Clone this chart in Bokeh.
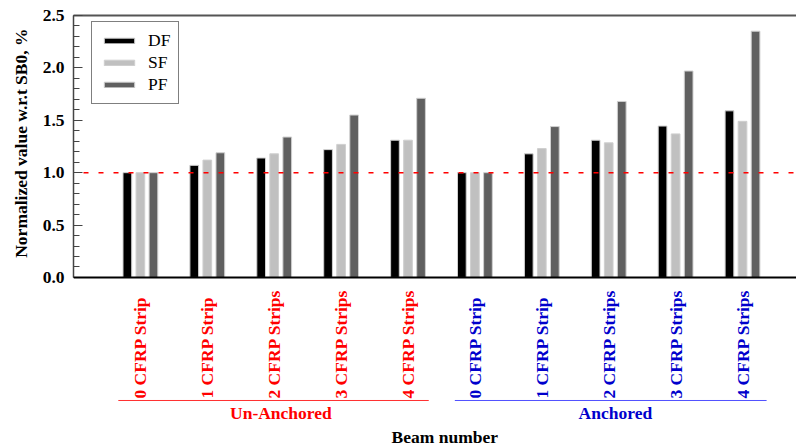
import numpy as np
from math import pi
from bokeh.plotting import figure
from bokeh.models import (ColumnDataSource, Span, Legend, LegendItem, Title,
                          LinearAxis, FixedTicker, SingleIntervalTicker, NumeralTickFormatter)
from bokeh.core.properties import value
from bokeh.transform import dodge
from bokeh.embed import file_html
from bokeh.resources import INLINE

# ---- data ----
categories = ["0 CFRP Strip", "1 CFRP Strip", "2 CFRP Strips", "3 CFRP Strips", "4 CFRP Strips",
              "0 CFRP Strip", "1 CFRP Strip", "2 CFRP Strips", "3 CFRP Strips", "4 CFRP Strips"]
groups = ["Un-Anchored", "Anchored"]
df_vals = [1.00, 1.07, 1.14, 1.22, 1.31, 1.00, 1.18, 1.31, 1.445, 1.59]
sf_vals = [1.00, 1.12, 1.18, 1.27, 1.31, 1.00, 1.23, 1.285, 1.37, 1.49]
pf_vals = [1.00, 1.19, 1.34, 1.55, 1.71, 1.00, 1.44, 1.68, 1.97, 2.35]
series = ["DF", "SF", "PF"]
reference_value = 1.0
y_title = "Normalized value w.r.t SB0, %"
x_title = "Beam number"

FONT = "Liberation Serif"
RED = "#ff0000"
BLUE = "#0000cc"

xs = np.arange(1, len(categories) + 1)
src = ColumnDataSource(dict(x=xs, DF=df_vals, SF=sf_vals, PF=pf_vals))

p = figure(width=796, height=446, x_range=(0, 10.807), y_range=(-1.613, 2.5),
           output_backend="svg", toolbar_location=None,
           min_border_left=73, min_border_right=0, min_border_top=15, min_border_bottom=0)
p.outline_line_color = None
p.xgrid.visible = False
p.ygrid.visible = False
p.xaxis.visible = False
p.background_fill_color = "white"
p.border_fill_color = "white"

colors = {"DF": "#000000", "SF": "#c0c0c0", "PF": "#606060"}
offsets = {"DF": -0.195, "SF": 0.0, "PF": 0.195}
renderers = {}
for s in series:
    renderers[s] = p.vbar(x=dodge("x", offsets[s], range=p.x_range), top=s, bottom=0, width=0.13,
                          source=src, fill_color=colors[s], line_color="#cfcfcf", line_width=1)

# reference line and baseline
p.add_layout(Span(location=reference_value, dimension="width", line_color=RED,
                  line_width=1.5, line_dash="5 10", line_dash_offset=5, level="overlay"))
p.add_layout(Span(location=0, dimension="width", line_color="black", line_width=2))

# y axis
ya = p.yaxis[0]
ya.bounds = (0, 2.5)
ya.ticker = SingleIntervalTicker(interval=0.5, num_minor_ticks=5)
ya.formatter = NumeralTickFormatter(format="0.0")
ya.major_label_text_font = FONT
ya.major_label_text_font_style = "bold"
ya.major_label_text_font_size = "17.5px"
ya.major_label_text_color = "black"
ya.major_label_standoff = 9
ya.major_tick_in = 9
ya.major_tick_out = 0
ya.minor_tick_in = 6
ya.minor_tick_out = 0
ya.axis_line_color = "#444444"
ya.axis_line_width = 1.5
ya.major_tick_line_color = "#444444"
ya.minor_tick_line_color = "#444444"

# y title as a side title aligned near the top
p.add_layout(Title(text=y_title, align="right", offset=13, text_font=FONT,
                   text_font_style="bold", text_font_size="17.5px", text_color="black",
                   standoff=17), "left")

# top border
top = LinearAxis(ticker=FixedTicker(ticks=[]), major_label_text_font_size="0px",
                 major_tick_line_color=None, minor_tick_line_color=None,
                 axis_line_color="#555555", axis_line_width=2, major_label_standoff=0)
p.add_layout(top, "above")

# category labels
cat_src = ColumnDataSource(dict(x=xs, y=[-1.155] * len(xs), text=categories,
                                color=[RED] * 5 + [BLUE] * 5))
p.text(x="x", y="y", text="text", source=cat_src, angle=pi / 2, text_align="left",
       text_baseline="middle", text_font=value(FONT), text_font_style="bold",
       text_font_size="17.5px", text_color="color")

# group lines and labels
p.segment(x0=[xs[0] - 0.33, xs[5] - 0.30], x1=[xs[4] + 0.31, xs[9] + 0.36],
          y0=[-1.174, -1.174], y1=[-1.174, -1.174],
          line_color=["#ff3030", "#5050ff"], line_width=1)
grp_src = ColumnDataSource(dict(x=[(xs[0] + xs[4]) / 2 + 0.1, (xs[5] + xs[9]) / 2 + 0.1],
                                y=[-1.295, -1.295], text=groups, color=[RED, BLUE]))
p.text(x="x", y="y", text="text", source=grp_src, text_align="center",
       text_baseline="middle", text_font=value(FONT), text_font_style="bold",
       text_font_size="17.5px", text_color="color")
p.text(x=[5.55], y=[-1.527], text=[x_title], text_align="center",
       text_baseline="middle", text_font=value(FONT), text_font_style="bold",
       text_font_size="17.5px", text_color="black")

legend = Legend(items=[LegendItem(label=s, renderers=[renderers[s]]) for s in series],
                location=(18, 342), border_line_color="black", border_line_width=1,
                label_text_font=FONT, label_text_font_size="17.5px", label_text_color="black",
                glyph_width=38, glyph_height=7, label_standoff=10, padding=8,
                spacing=1, label_height=20, margin=0, background_fill_alpha=1)
p.add_layout(legend)

open("out.html", "w").write(file_html(p, INLINE))
